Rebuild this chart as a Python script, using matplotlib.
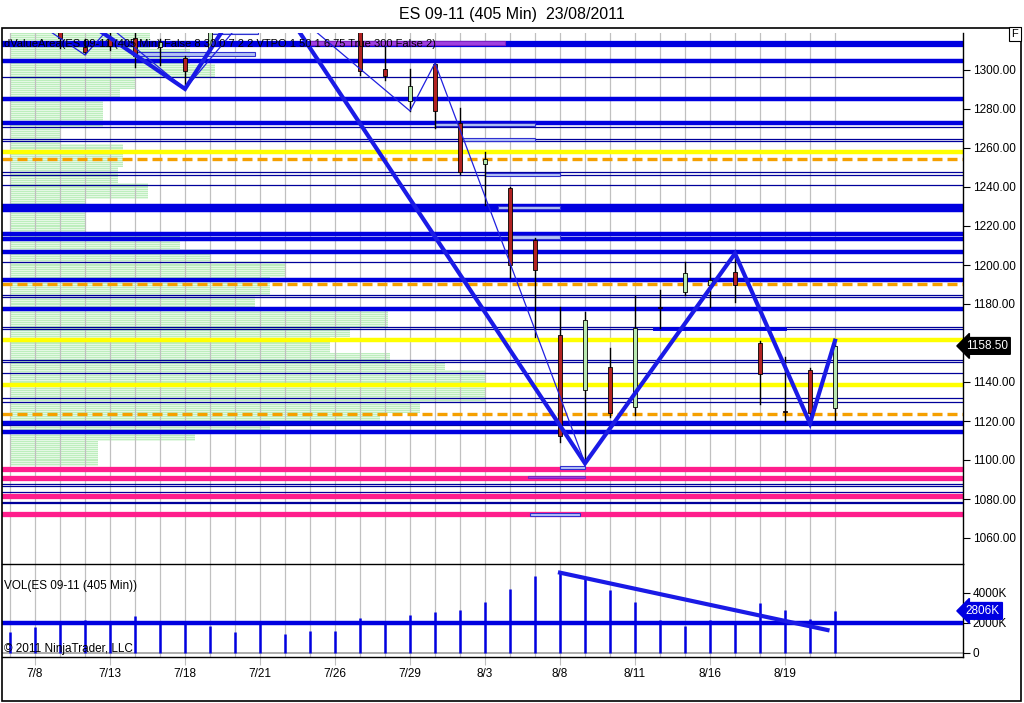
import numpy as np
import matplotlib.pyplot as plt
from matplotlib.patches import Rectangle

plt.rcParams['font.family'] = ['Liberation Sans Narrow', 'Liberation Sans', 'DejaVu Sans']

# 405 min bars, index 0..33
bar_labels = {1: "7/8", 4: "7/13", 7: "7/18", 10: "7/21", 13: "7/26", 16: "7/29",
              19: "8/3", 22: "8/8", 25: "8/11", 28: "8/16", 31: "8/19"}

opens = [1342, 1338, 1330, 1311.8, 1316.4, 1316.4, 1311.8, 1306.2, 1311.3, 1326, 1334, 1340,
         1333, 1336, 1326, 1300.5, 1284, 1303, 1272.8, 1251.6, 1239.3, 1212.8, 1164, 1135.9,
         1147.7, 1127.2, 1178.5, 1186.3, 1189.7, 1196.6, 1160.2, 1125, 1146.2, 1126.5]
highs = [1348, 1344, 1334, 1316, 1321, 1322, 1316, 1307.2, 1330, 1338, 1346, 1344,
         1340, 1338, 1330, 1312, 1300.6, 1303.6, 1280.5, 1258.1, 1240, 1213.8, 1178.6, 1176,
         1157.3, 1184.3, 1187, 1201.7, 1201, 1205.9, 1161.2, 1153, 1147, 1161.2]
lows = [1334, 1328, 1311.3, 1308.2, 1310, 1301.5, 1302.7, 1290, 1309, 1322, 1328, 1330,
        1325, 1322, 1297.6, 1295, 1279, 1270, 1246.6, 1230.8, 1193.3, 1163.2, 1109.4, 1098.3,
        1122.2, 1123, 1167.7, 1184.6, 1178.6, 1181.2, 1128.7, 1120.2, 1118.8, 1120.5]
closes = [1338, 1332, 1316.4, 1309.2, 1312.3, 1307.2, 1314.4, 1299.6, 1324, 1334, 1340, 1333,
          1336, 1326, 1299.5, 1297, 1292, 1279, 1247.8, 1254.2, 1200, 1197.4, 1112.3, 1171.8,
          1124.1, 1167.7, 1178, 1196, 1192.3, 1189.7, 1144.1, 1124.6, 1124, 1158.5]
volume_k = [1420, 1733, 2133, 2200, 1980, 2467, 1950, 1950, 1800, 1420, 1950, 1267, 1467, 1490,
            2333, 1950, 2556, 2733, 2889, 3422, 4267, 5156, 5356, 4911, 4222, 3422, 2200, 1800,
            2200, 1950, 3356, 2867, 2289, 2806]

# horizontal levels
thick_levels = [1313.3, 1304.6, 1285.1, 1272.8, 1230.4, 1228.3, 1215.8, 1213.3, 1206.6,
                1192.5, 1177.3, 1119.2, 1114.3]
thin_levels = [1296.3, 1270.7, 1264.8, 1263.4, 1247.5, 1245.9, 1240.8, 1201.3, 1184.6, 1183.7,
               1168.2, 1167.0, 1151.5, 1150.5, 1144.5, 1131.6, 1129.8, 1118.0, 1087.5, 1086.6,
               1083.6, 1078.7, 1077.8]
yellow_levels = [1257.8, 1161.6, 1138.7]
orange_levels = [1254.3, 1190.4, 1123.6]
magenta_levels = [1095.4, 1091.0, 1081.3, 1072.5]

# zigzags (bar, price)
zz_thick_x = [2, 7, 10, 23, 29, 32, 33]
zz_thick_y = [1334, 1290.3, 1350, 1098.3, 1205.9, 1118.8, 1161.2]
zz_thin_x = [1, 3, 4, 7, 10, 11, 16, 17, 23]
zz_thin_y = [1325, 1307.7, 1322, 1290.3, 1336, 1333, 1279, 1303.6, 1098.3]

# value area boxes: bar start, bar end, low, high
va_boxes = [(5, 9.8, 1307.0, 1309.3), (8, 9.9, 1318.5, 1321), (17, 21, 1271.5, 1273),
            (18, 21, 1263.5, 1265), (19, 22, 1245.5, 1247.2), (19.5, 22, 1228.5, 1230),
            (20, 22, 1213.5, 1215.5), (22, 23, 1095.2, 1097), (20.8, 22.8, 1071.5, 1073)]
purple_boxes = [(12, 19.8, 1312.8, 1314.8), (20.7, 23, 1090.6, 1091.6)]

# volume profile: price low, price high, length in bars
profile = [(1311, 1319, 5.6), (1303, 1311, 7.2), (1296, 1303, 8.2), (1290, 1296, 5.0),
           (1284, 1290, 4.4), (1270, 1284, 3.7), (1262, 1270, 2.0), (1250, 1262, 4.5),
           (1242, 1250, 4.3), (1234, 1242, 5.5), (1217, 1234, 3.0), (1208, 1217, 6.8),
           (1202, 1208, 8.0), (1194, 1202, 11.0), (1184, 1194, 10.4), (1178, 1184, 9.8),
           (1168, 1178, 15.1), (1163, 1168, 13.6), (1155, 1163, 12.8), (1150, 1155, 15.2),
           (1146, 1150, 17.4), (1129, 1146, 19.0), (1124, 1129, 16.4), (1120, 1124, 14.8),
           (1114, 1120, 10.4), (1110, 1114, 7.4), (1097, 1110, 3.5)]

W, H = 1024, 703
fig = plt.figure(figsize=(W / 100, H / 100), dpi=100)
fig.patch.set_facecolor('white')


def box(l, t, r, b):
    return [l / W, 1 - b / H, (r - l) / W, (b - t) / H]


xmin, xmax = (2 - 10) / 25, (963 - 10) / 25
ax = fig.add_axes(box(2, 33, 963, 564))
axv = fig.add_axes(box(2, 564, 963, 657))

n = len(closes)
bars = np.arange(n)

# ---- price panel
for i in bars:
    ax.axvline(i, color='#c0c0c0', lw=0.9, zorder=1)

# striped profile: pale block with slightly darker rows
for lo, hi, ln in profile:
    ax.barh((lo + hi) / 2, ln, left=0, height=hi - lo, color='#e4f8e4', lw=0, zorder=0.4)
    for p in np.arange(lo, hi, 1.0):
        ax.barh(p + 0.5, ln, left=0, height=0.5, color='#bdeebd', lw=0, zorder=0.5)

for lv in thin_levels:
    ax.axhline(lv, color='#00009a', lw=0.9, zorder=2)
for lv in thick_levels:
    ax.axhline(lv, color='#0000e0', lw=3.2, zorder=2)
ax.axhline(1313.3, color='#0000e0', lw=4.5, zorder=2)
for lv in yellow_levels:
    ax.axhline(lv, color='#ffff00', lw=3.2, zorder=2)
for lv in orange_levels:
    ax.axhline(lv, color='#f5a000', lw=2.4, ls=(0, (3, 1.5)), zorder=2)
for lv in magenta_levels:
    ax.axhline(lv, color='#ff1e8c', lw=3.8, zorder=2)
ax.plot([25.8, 31], [1167.2, 1167.2], color='#0000e0', lw=2.8, zorder=3)

for x0, x1, lo, hi in va_boxes:
    ax.add_patch(Rectangle((x0, lo), x1 - x0, hi - lo, fc='#b4c4f4', ec='#3030d0', lw=0.8, zorder=3))
for x0, x1, lo, hi in purple_boxes:
    ax.add_patch(Rectangle((x0, lo), x1 - x0, hi - lo, fc='#a040e0', ec='#8020c0', lw=0.8, zorder=3))

bw = 0.17
for i in bars:
    ax.plot([i, i], [lows[i], highs[i]], color='black', lw=1, zorder=4)
    up = closes[i] >= opens[i]
    lo, hi = min(opens[i], closes[i]), max(opens[i], closes[i])
    ax.add_patch(Rectangle((i - bw / 2, lo), bw, max(hi - lo, 0.4),
                           fc='#b8e8b0' if up else '#b22222', ec='black', lw=0.6, zorder=5))

ax.plot(zz_thin_x, zz_thin_y, color='#2020e0', lw=0.9, zorder=6)
ax.plot(zz_thick_x, zz_thick_y, color='#1a1ae6', lw=3.0, zorder=7, solid_joinstyle='miter')

ax.set_xlim(xmin, xmax)
ax.set_ylim(1120 - 143 / 1.95, 1120 + 388 / 1.95)
ax.yaxis.tick_right()
price_ticks = list(range(1060, 1301, 20))
ax.set_yticks(price_ticks)
# the 1160 label sits under the last-price tag
ax.set_yticklabels(["" if v == 1160 else f"{v:.2f}" for v in price_ticks], fontsize=8.5)
ax.tick_params(axis='y', length=5, width=0.8, pad=2)
ax.set_xticks([])
for s in ['left', 'top', 'bottom']:
    ax.spines[s].set_visible(False)
ax.spines['right'].set_linewidth(1)

ax.text(0.002, 0.988, "dValueArea(ES 09-11 (405 Min) False 8 30 0 7 2 2 VTPO 1 50 1 6.75 True 300 False 2)",
        transform=ax.transAxes, fontsize=8, va='top', ha='left', zorder=10)
ax.text(1.003, 1158.5, "1158.50", transform=ax.get_yaxis_transform(), fontsize=8.5, color='white',
        va='center', ha='left', zorder=10,
        bbox=dict(boxstyle='larrow,pad=0.2', fc='black', ec='black'))

# ---- volume panel
for i in bars:
    axv.axvline(i, color='#c0c0c0', lw=0.9, zorder=1)
axv.axhline(0, color='#a0a0a0', lw=1.2, zorder=1)
axv.vlines(bars, 0, volume_k, color='#0000e0', lw=1.8, zorder=3)
axv.axhline(2000, color='#0000e0', lw=3.2, zorder=4)
axv.plot([22, 32.7], [5356, 1530], color='#1a1ae6', lw=3.0, zorder=5)

axv.set_xlim(xmin, xmax)
axv.set_ylim(-267, 5933)
axv.yaxis.tick_right()
axv.set_yticks([0, 2000, 4000])
axv.set_yticklabels(["0", "2000K", "4000K"], fontsize=8.5)
axv.tick_params(axis='y', length=5, width=0.8, pad=2)
axv.set_xticks(list(bar_labels.keys()))
axv.set_xticklabels(list(bar_labels.values()), fontsize=8.5)
axv.tick_params(axis='x', length=6, color='#c0c0c0', pad=2)
axv.spines['left'].set_visible(False)
for s in ['top', 'bottom', 'right']:
    axv.spines[s].set_linewidth(1)

axv.text(0.002, 0.83, "VOL(ES 09-11 (405 Min))", transform=axv.transAxes, fontsize=8.5, va='top')
axv.text(0.002, 0.02, "© 2011 NinjaTrader, LLC", transform=axv.transAxes, fontsize=8.5, va='bottom')
axv.text(1.003, volume_k[-1], f"{volume_k[-1]}K", transform=axv.get_yaxis_transform(), fontsize=8.5,
         color='white', va='center', ha='left',
         bbox=dict(boxstyle='larrow,pad=0.2', fc='#0000e0', ec='#0000e0'))

# frame, title
fig.add_artist(Rectangle((2 / W, 1 - 701 / H), 1019 / W, 673 / H, transform=fig.transFigure,
                         fill=False, ec='black', lw=1.2))
fig.text(0.5, 1 - 14 / H, "ES 09-11 (405 Min)  23/08/2011", ha='center', va='center', fontsize=11.5)
fig.text(1015 / W, 1 - 34 / H, "F", ha='center', va='center', fontsize=8,
         bbox=dict(boxstyle='square,pad=0.2', fc='white', ec='black', lw=0.8))

fig.savefig("out.png", dpi=100)
